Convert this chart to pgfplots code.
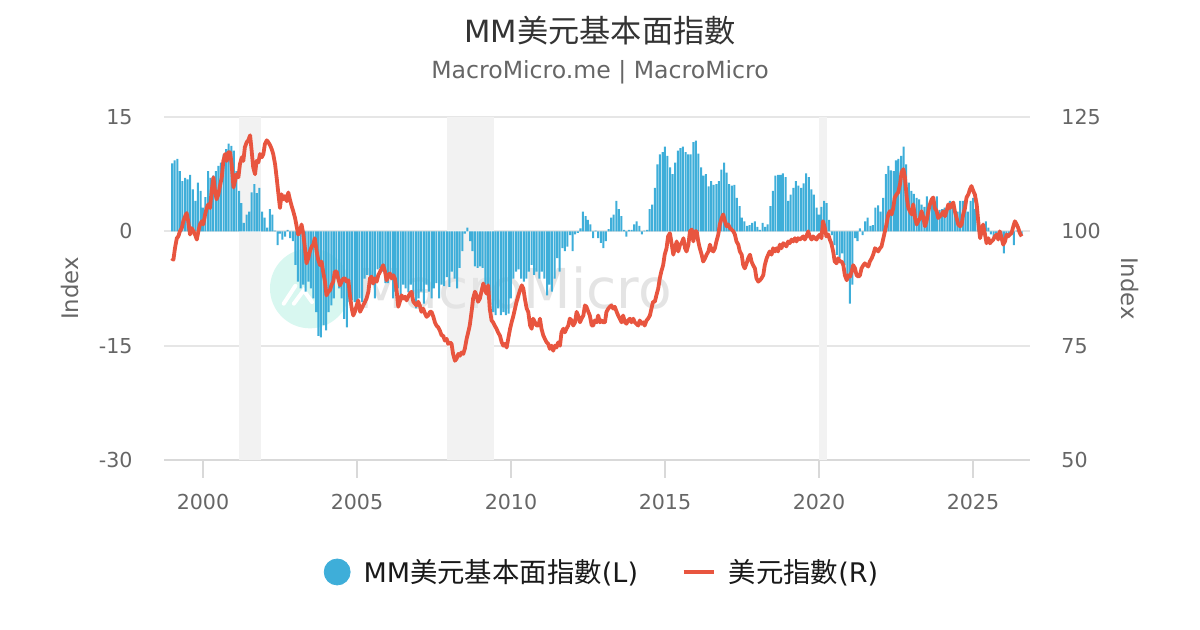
\documentclass[border=0pt]{standalone}
\usepackage{pgfplots}
\pgfplotsset{compat=1.18}
\usepackage{fontspec}
\setmainfont{DejaVu Sans}
\newfontfamily\cjk{Noto Sans CJK TC}
\definecolor{barblue}{HTML}{3EAED9}
\definecolor{linered}{HTML}{E8553F}
\definecolor{bandgray}{HTML}{F2F2F2}
\definecolor{gridgray}{HTML}{E6E6E6}
\definecolor{axisgray}{HTML}{D9D9D9}
\definecolor{txtgray}{HTML}{666666}
\definecolor{titlegray}{HTML}{333333}
\definecolor{wmteal}{HTML}{D8F7F0}
\definecolor{wmgray}{HTML}{E4E4E4}
\begin{document}
\begin{tikzpicture}
\path[use as bounding box] (0,0) rectangle (600pt,315pt);
\pgfplotsset{base/.style={
  at={(82pt,85pt)}, anchor=south west, scale only axis,
  width=433pt, height=171.5pt,
  xmin=1998.734, xmax=2026.851, clip=false,
  tick label style={font=\fontsize{10.3}{12}\selectfont, text=txtgray},
  ylabel={Index},
}}
\begin{axis}[base,
  ymin=-30, ymax=15,
  ytick={-30,-15,0,15}, yticklabels={-30,-15,0,15},
  xtick={2000,2005,2010,2015,2020,2025}, xticklabels={2000,2005,2010,2015,2020,2025},
  axis x line*=bottom, axis y line*=left,
  x axis line style={-, draw=axisgray, line width=1pt},
  y axis line style={draw=none},
  xtick align=outside, major tick length=9pt,
  xtick style={draw=axisgray, line width=1pt},
  ytick style={draw=none},
  ymajorgrids, grid style={draw=gridgray, line width=1pt},
  yticklabel style={anchor=east, inner sep=0pt, xshift=-15.5pt},
  xticklabel style={anchor=north, inner sep=0pt, yshift=-8pt},
  ylabel style={at={(axis description cs:-0.1085,0.5)}, anchor=center, font=\fontsize{11.4}{13}\selectfont, text=txtgray},
]
% recession bands
\addplot[fill=bandgray, draw=none, forget plot] coordinates {(2001.17,-30) (2001.17,15) (2001.88,15) (2001.88,-30)};
\addplot[fill=bandgray, draw=none, forget plot] coordinates {(2007.92,-30) (2007.92,15) (2009.45,15) (2009.45,-30)};
\addplot[fill=bandgray, draw=none, forget plot] coordinates {(2020.00,-30) (2020.00,15) (2020.26,15) (2020.26,-30)};
% watermark
\fill[wmteal] (axis cs:2003.474,-7.48) circle[radius=20pt];
\draw[white, line width=2pt, line cap=round] (axis cs:2002.62,-9.49) -- (axis cs:2003.00,-7.15);
\draw[white, line width=2pt, line cap=round, line join=miter] (axis cs:2002.95,-9.49) -- (axis cs:2003.27,-7.74) -- (axis cs:2003.54,-9.28);
\node[anchor=base west, inner sep=0pt, text=wmgray, font=\fontsize{27.5}{30}\selectfont] at (axis cs:2005.0,-10.1) {MacroMicro};
% title and subtitle
\node[anchor=base, inner sep=0pt, text=titlegray] at (axis description cs:0.5035,1.2178) {\fontsize{15.3}{18}\selectfont MM{\fontsize{15.6}{18}\cjk 美元基本面指數}};
\node[anchor=base, inner sep=0pt, text=txtgray] at (axis description cs:0.5035,1.1128) {\fontsize{11.8}{14}\selectfont MacroMicro.me | MacroMicro};
% MM dollar fundamental index (monthly bars)
\addplot[ybar, bar width=0.065, fill=barblue, draw=none, forget plot] coordinates {
(1999.00,8.9) (1999.08,9.3) (1999.17,9.5) (1999.25,7.9) (1999.33,6.6) (1999.42,7.0) (1999.50,6.8) (1999.58,7.4) (1999.67,5.5) (1999.75,4.0) (1999.83,6.4) (1999.92,5.3)
(2000.00,3.1) (2000.08,4.5) (2000.17,7.9) (2000.25,7.0) (2000.33,7.3) (2000.42,7.9) (2000.50,8.6) (2000.58,9.0) (2000.67,10.1) (2000.75,10.8) (2000.83,11.5) (2000.92,11.2)
(2001.00,10.6) (2001.08,7.9) (2001.17,5.3) (2001.25,3.7) (2001.33,1.1) (2001.42,2.2) (2001.50,2.6) (2001.58,5.1) (2001.67,6.2) (2001.75,5.0) (2001.83,5.7) (2001.92,2.6)
(2002.00,1.8) (2002.08,0.5) (2002.17,2.9) (2002.25,2.2) (2002.33,0.1) (2002.42,-1.8) (2002.50,-0.3) (2002.58,-1.1) (2002.67,-0.7) (2002.75,0.2) (2002.83,-0.9) (2002.92,-1.3)
(2003.00,-4.4) (2003.08,-6.6) (2003.17,-7.5) (2003.25,-7.0) (2003.33,-7.9) (2003.42,-6.6) (2003.50,-7.5) (2003.58,-8.8) (2003.67,-10.6) (2003.75,-13.7) (2003.83,-13.9) (2003.92,-12.3)
(2004.00,-13.0) (2004.08,-10.6) (2004.17,-9.7) (2004.25,-8.8) (2004.33,-6.2) (2004.42,-7.5) (2004.50,-8.8) (2004.58,-11.5) (2004.67,-12.6) (2004.75,-9.3) (2004.83,-9.0) (2004.92,-9.3)
(2005.00,-9.3) (2005.08,-8.8) (2005.17,-9.3) (2005.25,-6.2) (2005.33,-5.7) (2005.42,-6.0) (2005.50,-7.0) (2005.58,-8.8) (2005.67,-5.0) (2005.75,-4.8) (2005.83,-5.3) (2005.92,-6.8)
(2006.00,-6.8) (2006.08,-5.7) (2006.17,-8.8) (2006.25,-7.9) (2006.33,-7.5) (2006.42,-8.4) (2006.50,-7.0) (2006.58,-7.5) (2006.67,-8.0) (2006.75,-7.0) (2006.83,-8.5) (2006.92,-10.1)
(2007.00,-8.8) (2007.08,-7.9) (2007.17,-9.5) (2007.25,-7.0) (2007.33,-7.9) (2007.42,-8.8) (2007.50,-7.5) (2007.58,-6.8) (2007.67,-8.8) (2007.75,-7.0) (2007.83,-7.2) (2007.92,-6.0)
(2008.00,-7.3) (2008.08,-5.3) (2008.17,-6.2) (2008.25,-7.5) (2008.33,-4.8) (2008.42,-2.6) (2008.50,-0.3) (2008.58,0.5) (2008.67,-1.3) (2008.75,-2.6) (2008.83,-4.6) (2008.92,-4.8)
(2009.00,-4.6) (2009.08,-4.8) (2009.17,-7.0) (2009.25,-8.8) (2009.33,-9.7) (2009.42,-10.6) (2009.50,-11.0) (2009.58,-10.1) (2009.67,-11.0) (2009.75,-10.6) (2009.83,-11.0) (2009.92,-10.8)
(2010.00,-8.8) (2010.08,-6.2) (2010.17,-5.3) (2010.25,-5.0) (2010.33,-6.2) (2010.42,-6.6) (2010.50,-6.2) (2010.58,-5.3) (2010.67,-4.4) (2010.75,-5.7) (2010.83,-5.3) (2010.92,-6.2)
(2011.00,-5.3) (2011.08,-6.2) (2011.17,-8.4) (2011.25,-7.0) (2011.33,-7.9) (2011.42,-6.2) (2011.50,-3.5) (2011.58,-5.3) (2011.67,-2.2) (2011.75,-2.6) (2011.83,-2.0) (2011.92,-0.5)
(2012.00,-2.6) (2012.08,-0.4) (2012.17,-0.2) (2012.25,0.4) (2012.33,2.6) (2012.42,2.0) (2012.50,1.5) (2012.58,0.9) (2012.67,-0.9) (2012.75,0.1) (2012.83,-0.9) (2012.92,-1.5)
(2013.00,-2.2) (2013.08,-1.3) (2013.17,0.3) (2013.25,1.8) (2013.33,2.2) (2013.42,4.0) (2013.50,2.9) (2013.58,2.0) (2013.67,0.2) (2013.75,-0.7) (2013.83,0.2) (2013.92,0.2)
(2014.00,0.9) (2014.08,1.3) (2014.17,0.7) (2014.25,-0.4) (2014.33,0.1) (2014.42,0.2) (2014.50,2.9) (2014.58,3.5) (2014.67,5.7) (2014.75,8.8) (2014.83,10.1) (2014.92,10.4)
(2015.00,11.1) (2015.08,9.9) (2015.17,8.4) (2015.25,7.5) (2015.33,9.0) (2015.42,10.6) (2015.50,10.9) (2015.58,11.1) (2015.67,10.4) (2015.75,10.1) (2015.83,10.1) (2015.92,11.7)
(2016.00,11.9) (2016.08,10.2) (2016.17,8.4) (2016.25,7.3) (2016.33,7.5) (2016.42,5.9) (2016.50,6.6) (2016.58,6.1) (2016.67,6.2) (2016.75,6.6) (2016.83,8.1) (2016.92,9.0)
(2017.00,7.7) (2017.08,6.2) (2017.17,6.0) (2017.25,6.1) (2017.33,4.4) (2017.42,3.3) (2017.50,1.8) (2017.58,1.3) (2017.67,0.7) (2017.75,0.8) (2017.83,1.1) (2017.92,1.3)
(2018.00,0.6) (2018.08,0.2) (2018.17,1.1) (2018.25,0.6) (2018.33,0.9) (2018.42,3.3) (2018.50,5.3) (2018.58,7.3) (2018.67,7.4) (2018.75,7.4) (2018.83,7.6) (2018.92,7.1)
(2019.00,4.0) (2019.08,4.8) (2019.17,5.7) (2019.25,6.6) (2019.33,6.0) (2019.42,5.7) (2019.50,6.3) (2019.58,7.6) (2019.67,7.1) (2019.75,5.5) (2019.83,4.8) (2019.92,3.1)
(2020.00,2.2) (2020.08,3.2) (2020.17,4.0) (2020.25,3.7) (2020.33,1.5) (2020.42,-0.5) (2020.50,-1.8) (2020.58,-3.1) (2020.67,-3.5) (2020.75,-2.9) (2020.83,-4.4) (2020.92,-6.2)
(2021.00,-9.5) (2021.08,-7.0) (2021.17,-0.9) (2021.25,-1.3) (2021.33,0.4) (2021.42,-0.5) (2021.50,1.3) (2021.58,1.8) (2021.67,0.7) (2021.75,0.8) (2021.83,3.1) (2021.92,3.4)
(2022.00,2.6) (2022.08,4.4) (2022.17,7.5) (2022.25,8.6) (2022.33,8.0) (2022.42,7.9) (2022.50,9.3) (2022.58,9.5) (2022.67,9.9) (2022.75,11.1) (2022.83,8.8) (2022.92,6.4)
(2023.00,5.3) (2023.08,4.9) (2023.17,4.4) (2023.25,4.2) (2023.33,3.5) (2023.42,3.2) (2023.50,4.6) (2023.58,3.1) (2023.67,4.2) (2023.75,3.5) (2023.83,4.6) (2023.92,2.8)
(2024.00,2.9) (2024.08,3.1) (2024.17,2.8) (2024.25,4.0) (2024.33,3.1) (2024.42,2.6) (2024.50,2.6) (2024.58,4.0) (2024.67,4.0) (2024.75,4.0) (2024.83,2.6) (2024.92,4.0)
(2025.00,4.4) (2025.08,2.9) (2025.17,1.5) (2025.25,-0.4) (2025.33,-0.2) (2025.42,1.3) (2025.50,0.5) (2025.58,-0.4) (2025.67,-0.9) (2025.75,-0.2) (2025.83,-0.4) (2025.92,-1.1)
(2026.00,-2.9) (2026.08,-0.9) (2026.17,-0.4) (2026.25,0.1) (2026.33,-1.8) (2026.42,0.1) (2026.50,-0.2) (2026.58,-0.4)
};
\end{axis}
\begin{axis}[base,
  ymin=50, ymax=125,
  ytick={50,75,100,125}, yticklabels={50,75,100,125},
  axis y line*=right, y axis line style={draw=none}, ytick style={draw=none},
  hide x axis,
  yticklabel style={anchor=west, inner sep=0pt, xshift=15.5pt},
  ylabel style={at={(axis description cs:1.1155,0.5)}, anchor=center, rotate=180, font=\fontsize{11.4}{13}\selectfont, text=txtgray},
  legend style={at={(axis description cs:0.5046,-0.3265)}, anchor=center, draw=none, fill=none,
    legend columns=2, font=\fontsize{13.5}{16}\selectfont, text=black!90,
    nodes={inner sep=0pt},
    /tikz/every odd column/.append style={column sep=6.5pt},
    /tikz/every even column/.append style={column sep=22pt}},
]
\addlegendimage{legend image code/.code={\fill[barblue] (6.5pt,0pt) circle[radius=6.5pt];}}
\addlegendentry{MM{\fontsize{13.7}{16}\cjk 美元基本面指數}(L)}
\addplot[linered, line width=1.9pt, line join=round,
  legend image code/.code={\draw[linered, line width=1.6pt] (0pt,0pt) -- (15.25pt,0pt);}] coordinates {
(1998.98,94.1) (1999.04,93.8) (1999.09,96.3) (1999.15,98.5) (1999.20,98.9) (1999.25,100.0) (1999.31,100.7) (1999.36,102.2) (1999.42,103.3) (1999.47,104.0) (1999.52,102.2) (1999.58,99.3) (1999.63,100.7) (1999.69,100.0) (1999.74,99.3) (1999.80,98.2) (1999.85,100.0) (1999.90,101.5) (1999.96,102.2)
(2000.01,101.5) (2000.07,103.7) (2000.12,105.1) (2000.17,105.9) (2000.23,105.1) (2000.28,108.8) (2000.34,111.8) (2000.39,108.8) (2000.44,107.0) (2000.50,108.1) (2000.55,109.9) (2000.61,111.8) (2000.66,115.4) (2000.72,116.9) (2000.77,115.4) (2000.82,117.3) (2000.88,117.3) (2000.93,114.7) (2000.99,109.6)
(2001.04,111.0) (2001.09,112.5) (2001.15,111.8) (2001.20,114.7) (2001.26,116.2) (2001.31,115.4) (2001.36,118.4) (2001.42,119.5) (2001.47,119.9) (2001.53,121.0) (2001.58,117.6) (2001.63,114.0) (2001.69,112.5) (2001.74,115.4) (2001.80,115.1) (2001.85,116.9) (2001.91,116.2) (2001.96,116.9)
(2002.01,119.1) (2002.07,119.9) (2002.12,119.5) (2002.18,118.8) (2002.23,118.0) (2002.28,116.9) (2002.34,114.7) (2002.39,111.8) (2002.45,108.1) (2002.50,105.1) (2002.55,108.1) (2002.61,107.0) (2002.66,107.7) (2002.72,106.6) (2002.77,108.5) (2002.82,107.0) (2002.88,105.5) (2002.93,104.4) (2002.99,102.9)
(2003.04,101.1) (2003.09,99.3) (2003.15,100.0) (2003.20,101.5) (2003.26,99.3) (2003.31,96.3) (2003.36,93.0) (2003.42,94.1) (2003.47,95.6) (2003.53,96.7) (2003.58,97.1) (2003.63,98.5) (2003.69,95.6) (2003.74,93.8) (2003.80,92.6) (2003.85,93.4) (2003.90,91.2) (2003.96,89.0)
(2004.01,86.0) (2004.07,86.8) (2004.12,87.1) (2004.17,88.2) (2004.23,89.0) (2004.28,91.2) (2004.34,91.2) (2004.39,89.7) (2004.45,88.2) (2004.50,89.0) (2004.56,89.7) (2004.61,89.7) (2004.66,89.0) (2004.72,89.3) (2004.77,86.0) (2004.83,83.1) (2004.88,81.6) (2004.93,82.4) (2004.99,83.8)
(2005.04,84.9) (2005.10,82.4) (2005.15,83.1) (2005.20,83.8) (2005.26,84.6) (2005.31,85.3) (2005.37,86.8) (2005.42,89.7) (2005.47,90.1) (2005.53,88.6) (2005.58,89.7) (2005.64,89.0) (2005.69,90.4) (2005.75,91.2) (2005.80,91.9) (2005.85,92.6) (2005.91,91.2) (2005.96,89.3)
(2006.02,90.4) (2006.07,90.8) (2006.12,89.7) (2006.18,90.4) (2006.23,89.7) (2006.29,86.8) (2006.34,83.5) (2006.39,84.6) (2006.45,86.0) (2006.50,85.3) (2006.56,85.7) (2006.61,84.9) (2006.66,85.7) (2006.72,86.4) (2006.77,86.8) (2006.83,84.6) (2006.88,84.2) (2006.93,83.8) (2006.99,84.6)
(2007.04,83.8) (2007.09,82.4) (2007.15,83.1) (2007.21,82.0) (2007.26,81.3) (2007.31,81.6) (2007.37,82.4) (2007.42,82.4) (2007.48,81.3) (2007.53,80.1) (2007.58,79.4) (2007.64,79.0) (2007.69,78.3) (2007.75,77.2) (2007.80,77.2) (2007.85,76.1) (2007.91,76.5) (2007.96,75.4)
(2008.02,75.7) (2008.07,75.4) (2008.12,73.2) (2008.18,71.7) (2008.23,72.1) (2008.29,73.2) (2008.34,72.8) (2008.39,73.5) (2008.45,73.2) (2008.50,74.3) (2008.56,76.5) (2008.61,77.9) (2008.66,79.4) (2008.72,82.4) (2008.77,85.3) (2008.83,86.8) (2008.88,86.0) (2008.93,84.6) (2008.99,85.3)
(2009.04,86.8) (2009.10,88.6) (2009.15,87.5) (2009.20,86.4) (2009.26,88.2) (2009.31,83.1) (2009.37,80.5) (2009.42,80.1) (2009.47,79.4) (2009.53,78.7) (2009.58,77.9) (2009.64,77.2) (2009.70,75.7) (2009.75,75.0) (2009.80,75.4) (2009.86,74.6) (2009.91,76.5) (2009.97,78.7)
(2010.02,80.1) (2010.08,81.6) (2010.13,83.1) (2010.18,84.6) (2010.24,86.0) (2010.29,87.1) (2010.35,88.2) (2010.40,87.5) (2010.45,85.3) (2010.51,83.1) (2010.56,82.4) (2010.62,79.4) (2010.67,78.7) (2010.72,80.9) (2010.78,80.1) (2010.83,79.4) (2010.89,79.4) (2010.94,80.9) (2010.99,78.7)
(2011.05,77.2) (2011.10,76.5) (2011.16,75.7) (2011.21,75.4) (2011.26,74.3) (2011.32,75.0) (2011.37,73.9) (2011.43,75.0) (2011.48,74.6) (2011.53,75.7) (2011.59,75.0) (2011.64,77.9) (2011.70,78.7) (2011.75,77.9) (2011.80,78.7) (2011.86,79.4) (2011.91,80.9) (2011.97,80.5)
(2012.02,79.4) (2012.08,80.1) (2012.13,82.4) (2012.18,81.6) (2012.24,80.1) (2012.29,80.9) (2012.35,81.6) (2012.40,83.8) (2012.45,83.5) (2012.51,82.4) (2012.56,81.6) (2012.62,79.4) (2012.67,79.4) (2012.72,80.5) (2012.78,80.1) (2012.83,81.6) (2012.89,80.1) (2012.94,80.5) (2012.99,80.1)
(2013.05,80.1) (2013.10,82.4) (2013.16,83.1) (2013.21,83.5) (2013.26,83.8) (2013.32,83.1) (2013.37,83.5) (2013.43,82.4) (2013.48,81.6) (2013.53,80.9) (2013.59,80.1) (2013.64,81.6) (2013.70,80.1) (2013.75,79.8) (2013.80,80.5) (2013.86,80.9) (2013.91,80.1) (2013.97,80.9)
(2014.02,80.1) (2014.07,79.8) (2014.13,79.4) (2014.18,80.5) (2014.24,79.8) (2014.29,80.1) (2014.34,79.4) (2014.40,80.5) (2014.45,80.9) (2014.51,81.6) (2014.56,83.1) (2014.61,84.6) (2014.67,84.6) (2014.72,86.0) (2014.78,87.5) (2014.83,89.7) (2014.88,91.2) (2014.94,92.6) (2014.99,94.9)
(2015.05,96.3) (2015.10,98.9) (2015.16,99.6) (2015.22,97.1) (2015.27,94.9) (2015.32,96.3) (2015.38,97.8) (2015.43,95.6) (2015.49,97.1) (2015.54,97.4) (2015.60,98.5) (2015.65,96.3) (2015.70,95.6) (2015.76,97.1) (2015.81,100.0) (2015.87,100.4) (2015.92,97.8) (2015.97,100.0)
(2016.03,100.0) (2016.08,97.8) (2016.13,96.3) (2016.19,94.9) (2016.24,93.4) (2016.30,94.1) (2016.35,94.9) (2016.41,95.6) (2016.46,97.1) (2016.51,96.0) (2016.57,95.6) (2016.62,96.3) (2016.67,97.8) (2016.73,99.3) (2016.78,101.5) (2016.84,102.9) (2016.89,103.7) (2016.95,102.2)
(2017.00,101.1) (2017.05,101.5) (2017.11,100.7) (2017.16,100.4) (2017.22,100.0) (2017.27,99.3) (2017.32,97.8) (2017.38,97.1) (2017.43,95.6) (2017.49,94.9) (2017.54,92.6) (2017.59,91.9) (2017.65,93.0) (2017.70,94.1) (2017.76,94.9) (2017.81,93.4) (2017.86,92.6) (2017.92,91.9) (2017.97,89.7)
(2018.03,89.0) (2018.08,89.3) (2018.13,89.7) (2018.19,90.4) (2018.24,92.6) (2018.30,94.1) (2018.35,94.9) (2018.40,95.6) (2018.46,94.9) (2018.51,96.3) (2018.57,95.6) (2018.62,96.3) (2018.67,95.6) (2018.73,97.1) (2018.78,96.3) (2018.84,97.4) (2018.89,97.1) (2018.94,96.7)
(2019.00,97.8) (2019.05,97.4) (2019.11,98.2) (2019.16,97.8) (2019.22,98.5) (2019.27,97.8) (2019.32,98.5) (2019.38,98.2) (2019.43,98.5) (2019.49,98.9) (2019.54,98.2) (2019.59,98.9) (2019.65,100.0) (2019.70,98.9) (2019.76,98.2) (2019.81,98.9) (2019.86,98.5) (2019.92,98.2) (2019.97,98.9)
(2020.03,99.3) (2020.08,98.5) (2020.13,102.2) (2020.19,100.7) (2020.24,98.9) (2020.30,99.3) (2020.35,98.2) (2020.40,97.4) (2020.46,95.6) (2020.51,93.4) (2020.57,93.0) (2020.62,94.1) (2020.68,93.4) (2020.74,93.4) (2020.79,92.6) (2020.84,90.4) (2020.90,89.3) (2020.95,90.4)
(2021.01,90.1) (2021.06,91.2) (2021.11,92.6) (2021.17,91.9) (2021.22,90.4) (2021.28,90.1) (2021.33,90.4) (2021.38,91.9) (2021.44,92.6) (2021.49,93.0) (2021.55,92.6) (2021.60,92.3) (2021.65,93.4) (2021.71,94.1) (2021.76,94.9) (2021.82,96.3) (2021.87,96.0) (2021.92,95.6) (2021.98,96.3)
(2022.03,96.7) (2022.09,98.5) (2022.14,100.0) (2022.19,101.5) (2022.25,103.7) (2022.30,104.4) (2022.36,103.7) (2022.41,105.1) (2022.46,107.4) (2022.52,108.1) (2022.57,108.5) (2022.63,110.3) (2022.68,112.9) (2022.74,113.6) (2022.79,111.8) (2022.85,107.4) (2022.90,105.1) (2022.95,104.4)
(2023.01,103.7) (2023.06,105.9) (2023.12,102.9) (2023.17,101.5) (2023.22,102.2) (2023.28,102.9) (2023.33,104.4) (2023.39,102.9) (2023.44,101.1) (2023.49,102.2) (2023.55,104.4) (2023.60,105.9) (2023.66,107.0) (2023.71,107.4) (2023.76,105.1) (2023.82,104.4) (2023.87,102.9) (2023.93,103.3) (2023.98,103.7)
(2024.04,104.4) (2024.09,103.3) (2024.14,104.4) (2024.20,105.9) (2024.25,105.1) (2024.31,105.9) (2024.36,106.3) (2024.41,104.4) (2024.47,102.9) (2024.52,101.5) (2024.58,101.1) (2024.63,101.5) (2024.68,103.7) (2024.74,105.1) (2024.79,107.4) (2024.85,108.1) (2024.90,109.2) (2024.95,109.9)
(2025.01,108.8) (2025.06,108.1) (2025.12,105.9) (2025.17,102.2) (2025.23,98.5) (2025.28,100.0) (2025.33,101.5) (2025.39,99.3) (2025.44,97.4) (2025.50,98.5) (2025.55,97.4) (2025.60,97.8) (2025.66,98.2) (2025.71,98.9) (2025.77,99.3) (2025.82,98.2) (2025.87,100.0) (2025.93,98.5) (2025.98,97.1)
(2026.04,97.8) (2026.09,99.3) (2026.14,98.9) (2026.20,99.3) (2026.25,99.6) (2026.31,101.1) (2026.36,102.2) (2026.42,101.5) (2026.47,100.7) (2026.52,99.6) (2026.58,98.9)
};
\addlegendentry{{\fontsize{13.7}{16}\cjk 美元指數}(R)}
\end{axis}
\end{tikzpicture}
\end{document}
